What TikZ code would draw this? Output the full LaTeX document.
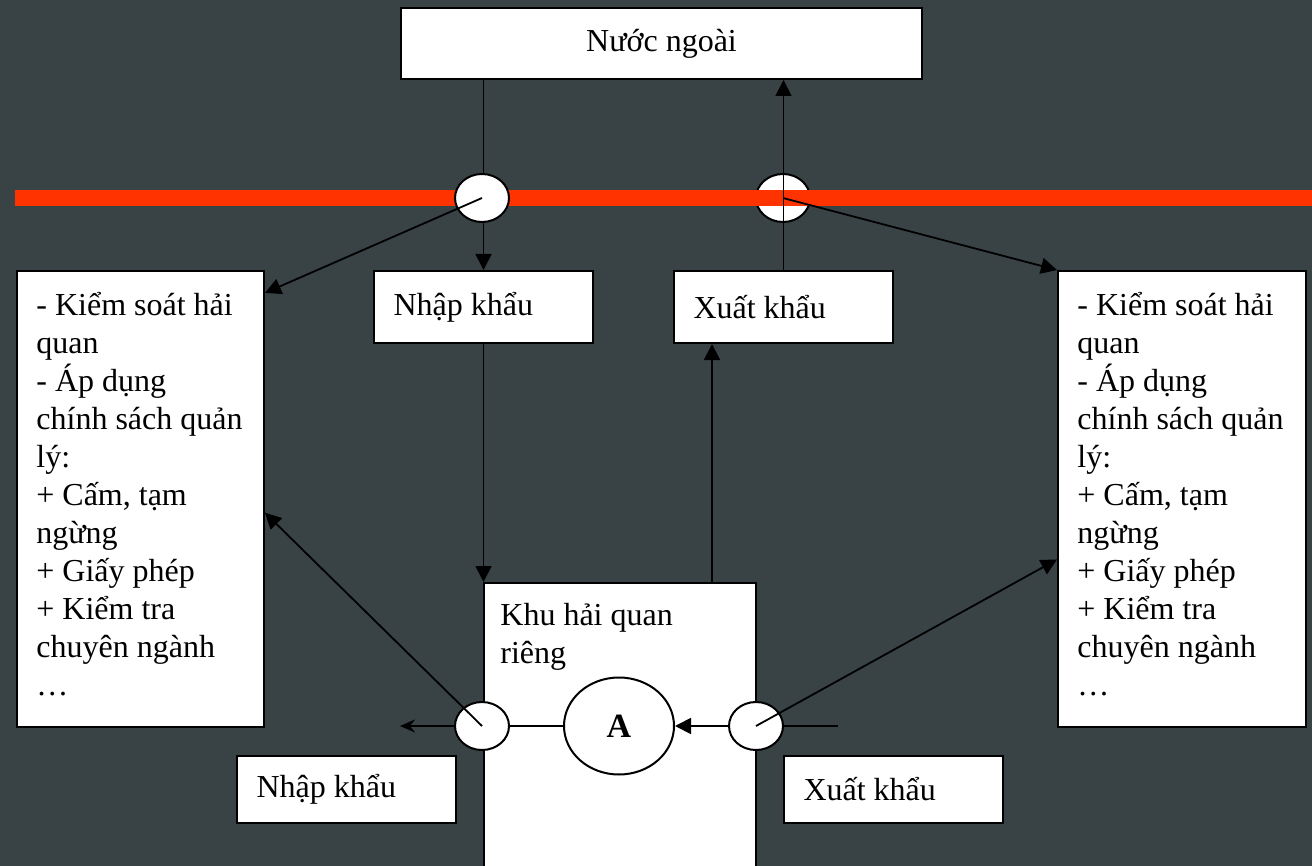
\documentclass[tikz,border=0pt]{standalone}
\usepackage{fontspec}
\setmainfont{Liberation Serif}
\usetikzlibrary{calc,positioning,arrows.meta,shapes.geometric}

\definecolor{bgslate}{RGB}{57,67,70}
\definecolor{borderred}{RGB}{255,51,0}

\begin{document}
\begin{tikzpicture}[x=0.5pt, y=-0.5pt,
	font=\fontsize{16}{19}\selectfont,
	box/.style={draw, line width=1pt, fill=white, rectangle, anchor=north west, inner sep=0pt},
	txtbox/.style={box, text width=#1, align=flush left, inner xsep=9.75pt},
	txt/.style={inner sep=0pt, align=flush left},
	gate/.style={draw, line width=1pt, fill=white, ellipse, minimum width=27pt, minimum height=24pt, inner sep=0pt},
	arr/.style={line width=0.9pt, -{Triangle[length=8pt,width=8pt]}},
	arrout/.style={line width=0.9pt, -{Stealth[length=7.5pt,width=6.5pt,inset=2.5pt]}},
	link/.style={line width=0.9pt}
]

	\def\yBorder{198}
	\def\yGate{726}

	\useasboundingbox (0,0) rectangle (1312,866);
	\fill[bgslate] (0,0) rectangle (1312,866);
	\clip (0,0) rectangle (1312,866);

	% border (red line), right gate sits under it
	\node[gate] (eTopR) at (783,\yBorder) {};
	\draw[borderred, line width=8pt] (15,\yBorder) -- (1312,\yBorder);

	% boxes
	\node[box, minimum width=260.5pt, minimum height=35.5pt] (nuoc) at (400,7) {Nước ngoài};
	\node[txtbox=90pt, minimum height=36pt] (nkTop) at (373,270) {Nhập khẩu};
	\node[txtbox=90pt, minimum height=36pt] (xkTop) at (673,270) {Xuất khẩu};
	\node[box, minimum width=123.5pt, minimum height=228pt] (ctrlL) at (16,270) {};
	\node[txt, right=10pt of ctrlL.west, yshift=2.5pt] (ctrlLtxt)
		{- Kiểm soát hải\\quan\\- Áp dụng\\chính sách quản\\lý:\\+ Cấm, tạm\\ngừng\\+ Giấy phép\\+ Kiểm tra\\chuyên ngành\\…};
	\node[box, minimum width=124pt, minimum height=228pt] (ctrlR) at (1057,270) {};
	\node[txt, right=10pt of ctrlR.west, yshift=2.5pt] (ctrlRtxt)
		{- Kiểm soát hải\\quan\\- Áp dụng\\chính sách quản\\lý:\\+ Cấm, tạm\\ngừng\\+ Giấy phép\\+ Kiểm tra\\chuyên ngành\\…};
	\node[box, minimum width=136pt, minimum height=150pt] (khu) at (483,582) {};
	\node[txt, anchor=north west] (khuTxt)
		at ([xshift=8.5pt, yshift=-10.5pt]khu.north west) {Khu hải quan\\riêng};
	\node[txtbox=90pt, minimum height=33.5pt] (nkBot) at (236,755) {Nhập khẩu};
	\node[txtbox=90pt, minimum height=33.5pt] (xkBot) at (783,755) {Xuất khẩu};

	% import from abroad
	\draw[arr] (nuoc.south -| nkTop.north) -- (nkTop.north);
	\node[gate] (eTopL) at (482,\yBorder) {};
	\draw[arr] (eTopL.center) -- ($(ctrlL.north east)!0.05!(ctrlL.south east)$);

	% export abroad
	\draw[arr] (xkTop.north) -- (xkTop.north |- nuoc.south);
	\draw[arr] (eTopR.center) -- (ctrlR.north west);

	% into / out of the zone
	\draw[arr] (nkTop.south) -- (nkTop.south |- khu.north);
	\draw[arr] ([xshift=114.5pt]khu.north west) -- ([xshift=114.5pt]khu.north west |- xkTop.south);

	% inland side
	\coordinate (outL) at (400,\yGate);
	\coordinate (inR) at (838,\yGate);
	\node[gate] (eBotL) at (482,\yGate) {};
	\node[gate] (eBotR) at (756,\yGate) {};
	\node[gate, minimum width=55pt, minimum height=48.5pt, font=\fontsize{17}{19}\selectfont\bfseries] (nodeA) at (619,\yGate) {A};

	\draw[arrout] (eBotL.west) -- (outL);
	\draw[link] (eBotL.east) -- (nodeA.west);
	\draw[arr] (eBotR.west) -- (nodeA.east);
	\draw[link] (eBotR.east) -- (inR);
	\draw[arr] (eBotL.center) -- ($(ctrlL.north east)!0.53!(ctrlL.south east)$);
	\draw[arr] (eBotR.center) -- ($(ctrlR.north west)!0.632!(ctrlR.south west)$);

\end{tikzpicture}
\end{document}
